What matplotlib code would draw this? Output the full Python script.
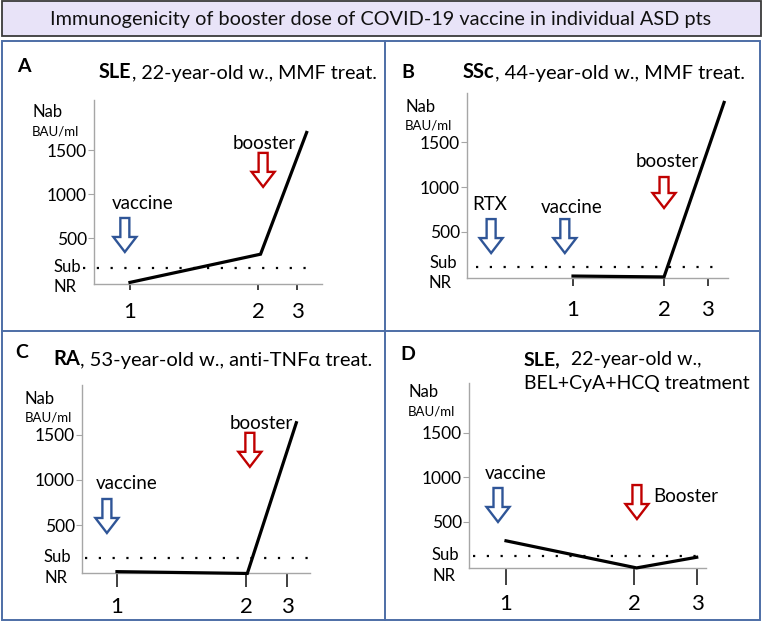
import matplotlib
matplotlib.use("Agg")
import matplotlib.pyplot as plt
from matplotlib.patches import Rectangle, Polygon
from matplotlib.transforms import ScaledTranslation

# ---------------- data ----------------
time_labels = ["1", "2", "3"]
y_ticks = [500, 1000, 1500]

# panel A: SLE, MMF
A_x = [1.0, 2.02, 2.38]
A_y = [0, 320, 1700]
A_sub = 160
# panel B: SSc, MMF (RTX before vaccine)
B_x = [1.0, 2.0, 2.66]
B_y = [0, -10, 1950]
B_sub = 100
# panel C: RA, anti-TNF
C_x = [1.0, 2.01, 2.39]
C_y = [-15, -35, 1630]
C_sub = 135
# panel D: SLE, BEL+CyA+HCQ
D_x = [1.0, 2.02, 2.49]
D_y = [285, -20, 100]
D_sub = 115

W, H = 762, 622
FONT = ["Lato", "DejaVu Sans"]
plt.rcParams["font.family"] = FONT

fig = plt.figure(figsize=(W / 100, H / 100), dpi=100)

def fx(px):
    return px / W

def fy(py):
    return 1 - py / H

# background: title box and panel frames (pixel coordinates)
bg = fig.add_axes([0, 0, 1, 1])
bg.set_xlim(0, W)
bg.set_ylim(H, 0)
bg.axis("off")
bg.add_patch(Rectangle((1.5, 1), 759, 35, facecolor="#E8E3F8", edgecolor="#3A3A3A", lw=1.3))
frame_c = "#4D6EA6"
bg.add_patch(Rectangle((2, 41), 758, 579, facecolor="none", edgecolor=frame_c, lw=1.4))
bg.plot([385, 385], [41, 620], color=frame_c, lw=1.4)
bg.plot([2, 760], [331, 331], color=frame_c, lw=1.4)
bg.text(381, 19, "Immunogenicity of booster dose of COVID-19 vaccine in individual ASD pts",
        ha="center", va="center", fontsize=14.3, color="#111111")

BLUE = "#2F5597"
RED = "#C00000"
AXC = "#A6A6A6"

def arrow(ax, x, ytip, color, length=34):
    # hollow block arrow, shape in pixels, tip anchored at data point
    hw, sw, hh = 11.5, 4.5, 15
    verts = [(0, 0), (-hw, hh), (-sw, hh), (-sw, length), (sw, length), (sw, hh), (hw, hh)]
    verts = [(vx / 100, vy / 100) for vx, vy in verts]
    tr = fig.dpi_scale_trans + ScaledTranslation(x, ytip, ax.transData)
    ax.add_patch(Polygon(verts, closed=True, facecolor="white", edgecolor=color,
                         lw=1.7, joinstyle="miter", transform=tr, clip_on=False, zorder=5))

def panel(box, xlim, ylim, xticks, xs, ys, sub, sub_span, ticklen, xpad):
    l, t, r, b = box
    ax = fig.add_axes([fx(l), fy(b), fx(r) - fx(l), fy(t) - fy(b)])
    ax.set_facecolor("none")
    ax.set_xlim(*xlim)
    ax.set_ylim(*ylim)
    for s in ("top", "right"):
        ax.spines[s].set_visible(False)
    for s in ("left", "bottom"):
        ax.spines[s].set_color(AXC)
        ax.spines[s].set_linewidth(1.0)
    ax.set_yticks(y_ticks)
    ax.set_yticklabels([str(v) for v in y_ticks], fontsize=12.5)
    ax.tick_params(axis="y", length=4, width=0.8, color=AXC, pad=1)
    ax.set_xticks(xticks)
    ax.set_xticklabels(time_labels, fontsize=16)
    ax.tick_params(axis="x", length=ticklen, width=1.4, color="#404040", pad=xpad)
    ax.plot(sub_span, [sub, sub], color="black", lw=1.6, linestyle=(0, (1, 5.2)),
            clip_on=False)
    ax.plot(xs, ys, color="black", lw=2.3, solid_joinstyle="miter", clip_on=False, zorder=4)
    return ax

def ylab(px, py_nab, py_bau):
    fig.text(fx(px), fy(py_nab), "Nab", fontsize=12, ha="left", va="center")
    fig.text(fx(px), fy(py_bau), "BAU/ml", fontsize=9.5, ha="left", va="center")

def subnr(px, py_sub, py_nr):
    fig.text(fx(px), fy(py_sub), "Sub", fontsize=12, ha="left", va="center")
    fig.text(fx(px), fy(py_nr), "NR", fontsize=12, ha="left", va="center")

def letter(px, py, s):
    fig.text(fx(px), fy(py), s, fontsize=14, fontweight="bold", ha="center", va="center")

def rich_title(px, py, bold, rest, size=14):
    t1 = fig.text(fx(px), fy(py), bold, fontsize=size, fontweight="bold", ha="left", va="center")
    bg.annotate(rest, xy=(1, 0), xycoords=t1, ha="left", va="bottom", fontsize=size,
                annotation_clip=False)
    return t1

# ---- Panel A ----
axA = panel((94, 100, 322, 284), (0.719, 2.5), (-18, 2068), [1, 2, 2.305],
            A_x, A_y, A_sub, [0.63, 2.45], 4, 9)
arrow(axA, 0.96, 345, BLUE)
axA.text(1.10, 900, "vaccine", fontsize=13.5, ha="center", va="center")
arrow(axA, 2.04, 1083, RED)
axA.text(2.05, 1570, "booster", fontsize=13.5, ha="center", va="center")
letter(24, 66, "A")
ylab(32, 112, 131)
subnr(53, 267, 287)

# ---- Panel B ----
axB = panel((467, 93, 728, 278), (-0.165, 2.703), (-22, 2056), [1, 2, 2.48],
            B_x, B_y, B_sub, [-0.066, 2.57], 6, 10)
arrow(axB, 0.10, 258, BLUE)
axB.text(0.08, 798, "RTX", fontsize=13.5, ha="center", va="center")
arrow(axB, 0.91, 258, BLUE)
axB.text(0.98, 775, "vaccine", fontsize=13.5, ha="center", va="center")
arrow(axB, 2.0, 764, RED, length=31)
axB.text(2.04, 1292, "booster", fontsize=13.5, ha="center", va="center")
letter(408, 72, "B")
ylab(405, 107, 126)
subnr(429, 263, 283)

# ---- Panel C ----
axC = panel((82, 385, 310, 573), (0.729, 2.496), (-30, 2047), [1, 2, 2.318],
            C_x, C_y, C_sub, [0.752, 2.535], 10, 7)
arrow(axC, 0.922, 412, BLUE)
axC.text(1.078, 955, "vaccine", fontsize=13.5, ha="center", va="center")
arrow(axC, 2.03, 1143, RED)
axC.text(2.116, 1627, "booster", fontsize=13.5, ha="center", va="center")
letter(22, 353, "C")
ylab(25, 399, 417)
subnr(44, 557, 578)

# ---- Panel D ----
axD = panel((469, 383, 706, 568), (0.711, 2.5625), (-21, 2061), [1, 2, 2.492],
            D_x, D_y, D_sub, [0.74, 2.5625], 12, 7)
arrow(axD, 0.9375, 497, BLUE)
axD.text(1.078, 1037, "vaccine", fontsize=13.5, ha="center", va="center")
arrow(axD, 2.023, 530, RED)
axD.text(2.148, 779, "Booster", fontsize=13.5, ha="left", va="center")
letter(408, 355, "D")
ylab(408, 392, 411)
subnr(432, 555, 576)

# panel titles
rich_title(99, 72, "SLE", ", 22-year-old w., MMF treat.", size=14.2)
rich_title(463, 72, "SSc", ", 44-year-old w., MMF treat.", size=14.5)
rich_title(53, 359, "RA", ", 53-year-old w., anti-TNFα treat.", size=14.5)
rich_title(524, 360, "SLE,", "  22-year-old w.,", size=14)
fig.text(fx(524), fy(383), "BEL+CyA+HCQ treatment", fontsize=14, ha="left", va="center")

fig.savefig("out.png", dpi=100)
